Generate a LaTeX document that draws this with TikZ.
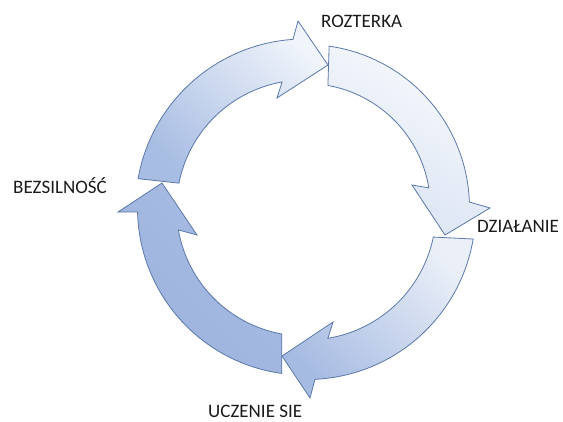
\documentclass[tikz,border=0pt]{standalone}
\usepackage{fontspec}
\setmainfont{Carlito}
\usetikzlibrary{calc}
\definecolor{edgeblue}{HTML}{5B78A8}
\definecolor{txt}{HTML}{1A1A1A}
\begin{document}
\begin{tikzpicture}[x=1pt,y=1pt,
  cyclearrow/.style={draw=edgeblue, line width=0.8pt, line join=miter},
  lbl/.style={anchor=base west, inner sep=0pt, text=txt, font=\fontsize{19}{21}\selectfont}]
\useasboundingbox (0,0) rectangle (563,-421);
\coordinate (c1) at (304.5,-208);
\coordinate (c2) at (306,-208);
\coordinate (c3) at (307,-211);
\coordinate (c4) at (304.5,-208);
% arrow 1: left -> top
\draw[cyclearrow, top color={rgb,255:red,240;green,244;blue,251}, bottom color={rgb,255:red,168;green,189;blue,227}, shading angle=-45]
  ($(c1)+(170:169)$) arc[start angle=170, end angle=93.9, radius=169]
  -- (298,-21) -- (328,-65) -- (277,-98)
  -- ($(c1)+(100.1:128)$) arc[start angle=100.1, end angle=168.8, radius=128] -- cycle;
% arrow 2: top -> right
\draw[cyclearrow, top color={rgb,255:red,247;green,249;blue,253}, bottom color={rgb,255:red,218;green,227;blue,243}, shading angle=-30]
  ($(c2)+(81.87:163.5)$) arc[start angle=81.87, end angle=2.1, radius=163.5]
  -- (490,-208) -- (445,-235) -- (412,-185)
  -- ($(c2)+(9.31:124.5)$) arc[start angle=9.31, end angle=79.86, radius=124.5] -- cycle;
% arrow 3: right -> bottom
\draw[cyclearrow, top color={rgb,255:red,234;green,239;blue,248}, bottom color={rgb,255:red,166;green,187;blue,226}, shading angle=-45]
  ($(c3)+(-9.57:168.5)$) arc[start angle=-9.57, end angle=-87.29, radius=168.5]
  -- (310,-398) -- (282,-356) -- (333,-322)
  -- ($(c3)+(-80.68:129)$) arc[start angle=-80.68, end angle=-11.66, radius=129] -- cycle;
% arrow 4: bottom -> left
\draw[cyclearrow, top color={rgb,255:red,168;green,188;blue,226}, bottom color={rgb,255:red,157;green,179;blue,222}, shading angle=-45]
  ($(c4)+(262.19:167)$) arc[start angle=262.19, end angle=181.37, radius=167]
  -- (118,-212) -- (162,-183) -- (197,-235)
  -- ($(c4)+(189.87:128)$) arc[start angle=189.87, end angle=259.8, radius=128] -- cycle;
% labels
\node[lbl] (rozterka) at (321,-27) {ROZTERKA};
\node[lbl] (dzialanie) at (477,-232) {DZIAŁANIE};
\node[lbl] (bezsilnosc) at (13,-193) {BEZSILNOŚĆ};
\node[lbl] (uczenie) at (208,-417) {UCZENIE SIE};
\end{tikzpicture}
\end{document}
